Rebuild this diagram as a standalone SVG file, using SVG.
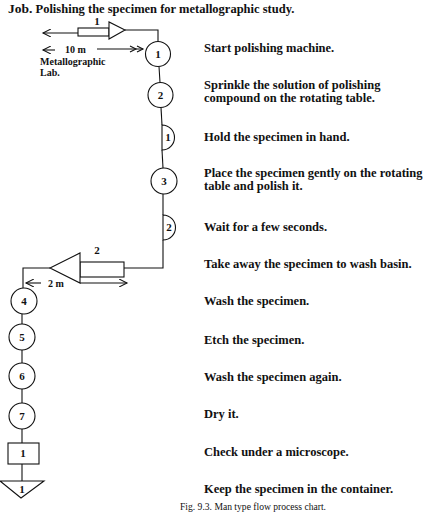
<svg xmlns="http://www.w3.org/2000/svg" width="438" height="521" viewBox="0 0 438 521">
<style>
.ln{fill:none;stroke:#111;stroke-width:1.1}
.sh{fill:#fff;stroke:#111;stroke-width:1.1}
.num{font-family:"Liberation Serif",serif;font-weight:bold;font-size:11px;fill:#111;text-anchor:middle}
.st{font-family:"Liberation Serif",serif;font-weight:bold;font-size:12.5px;fill:#111}
.sm{font-family:"Liberation Serif",serif;font-weight:bold;font-size:10px;fill:#111}
</style>
<defs>
<marker id="ah" markerWidth="10" markerHeight="8" refX="8" refY="4" orient="auto" markerUnits="userSpaceOnUse">
<path d="M0,0 L8,4 L0,8" fill="none" stroke="#111" stroke-width="1.1"/>
</marker>
</defs>
<rect width="438" height="521" fill="#fff"/>
<text x="8" y="13" style="font-family:'Liberation Serif',serif;font-weight:bold;font-size:12.5px;fill:#111"><tspan font-size="13.5px">Job.</tspan> Polishing the specimen for metallographic study.</text>

<g id="connectors">
<line class="ln" x1="78" y1="33" x2="43" y2="33" marker-end="url(#ah)"/>
<polyline class="ln" points="125,30 158,30 158,41.5"/>
<line class="ln" x1="159" y1="66.5" x2="160" y2="82.5"/>
<line class="ln" x1="161" y1="107.5" x2="162" y2="125"/>
<line class="ln" x1="162" y1="150" x2="163" y2="168"/>
<line class="ln" x1="163" y1="194" x2="163" y2="215"/>
<polyline class="ln" points="163,240 163,268 124,268"/>
<line class="ln" x1="80" y1="283" x2="127" y2="283" marker-end="url(#ah)"/>
<polyline class="ln" points="50,268 23,268 23,288"/>
<line class="ln" x1="22" y1="314" x2="22" y2="324"/>
<line class="ln" x1="22" y1="350" x2="22" y2="363"/>
<line class="ln" x1="22" y1="389" x2="22" y2="403"/>
<line class="ln" x1="22" y1="429" x2="22" y2="443"/>
<line class="ln" x1="22" y1="464" x2="22" y2="481"/>
<line class="ln" x1="55" y1="50" x2="43" y2="50" marker-end="url(#ah)"/>
<line class="ln" x1="97" y1="49" x2="143" y2="49"/>
<polyline class="ln" points="130,46 136,49 130,52"/>
<polyline class="ln" points="137,46 143,49 137,52"/>
<line class="ln" x1="41" y1="283" x2="26" y2="283" marker-end="url(#ah)"/>
</g>

<g id="transport1">
<rect class="sh" x="78" y="28" width="31" height="8"/>
<polygon class="sh" points="109,22 109,39 125,30"/>
<text class="num" x="97" y="24.5">1</text>
</g>
<g id="distance1">
<text class="sm" x="65" y="53">10 m</text>
<text class="sm" x="40" y="65">Metallographic</text>
<text class="sm" x="40" y="76">Lab.</text>
</g>

<g id="op1"><circle class="sh" cx="158" cy="54" r="12.5"/><text class="num" x="158" y="58">1</text></g>
<g id="op2"><circle class="sh" cx="160.5" cy="95" r="12.5"/><text class="num" x="160.5" y="99">2</text></g>
<g id="delay1"><path class="sh" d="M162,125 A12.5,12.5 0 0 1 162,150 Z"/><text class="num" x="168" y="141">1</text></g>
<g id="op3"><circle class="sh" cx="164" cy="181" r="13"/><text class="num" x="164" y="185">3</text></g>
<g id="delay2"><path class="sh" d="M163,215 A12.5,12.5 0 0 1 163,240 Z"/><text class="num" x="169" y="231">2</text></g>

<g id="transport2">
<rect class="sh" x="80" y="262" width="44" height="15"/>
<polygon class="sh" points="80,253 80,283 50,268"/>
<text class="num" x="97" y="254">2</text>
<text class="sm" x="48" y="287">2 m</text>
</g>

<g id="op4"><circle class="sh" cx="24" cy="301" r="13"/><text class="num" x="24" y="305">4</text></g>
<g id="op5"><circle class="sh" cx="22" cy="337" r="13"/><text class="num" x="22" y="341">5</text></g>
<g id="op6"><circle class="sh" cx="22" cy="376" r="13"/><text class="num" x="22" y="380">6</text></g>
<g id="op7"><circle class="sh" cx="22" cy="416" r="13"/><text class="num" x="22" y="420">7</text></g>
<g id="inspect1"><rect class="sh" x="8" y="443" width="31" height="21"/><text class="num" x="23" y="457">1</text></g>
<g id="storage1"><polygon class="sh" points="0,481 44,481 21,498"/><text class="num" x="22" y="493">1</text></g>

<g id="descriptions">
<text class="st" x="204" y="52">Start polishing machine.</text>
<text class="st" x="204" y="89">Sprinkle the solution of polishing</text>
<text class="st" x="204" y="102">compound on the rotating table.</text>
<text class="st" x="204" y="141">Hold the specimen in hand.</text>
<text class="st" x="204" y="177">Place the specimen gently on the rotating</text>
<text class="st" x="204" y="190">table and polish it.</text>
<text class="st" x="204" y="231">Wait for a few seconds.</text>
<text class="st" x="204" y="268">Take away the specimen to wash basin.</text>
<text class="st" x="204" y="305">Wash the specimen.</text>
<text class="st" x="204" y="344">Etch the specimen.</text>
<text class="st" x="204" y="381">Wash the specimen again.</text>
<text class="st" x="204" y="418">Dry it.</text>
<text class="st" x="204" y="456">Check under a microscope.</text>
<text class="st" x="204" y="493">Keep the specimen in the container.</text>
</g>
<text x="180" y="510" style="font-family:'Liberation Serif',serif;font-size:9.6px;fill:#111">Fig. 9.3. Man type flow process chart.</text>
</svg>
